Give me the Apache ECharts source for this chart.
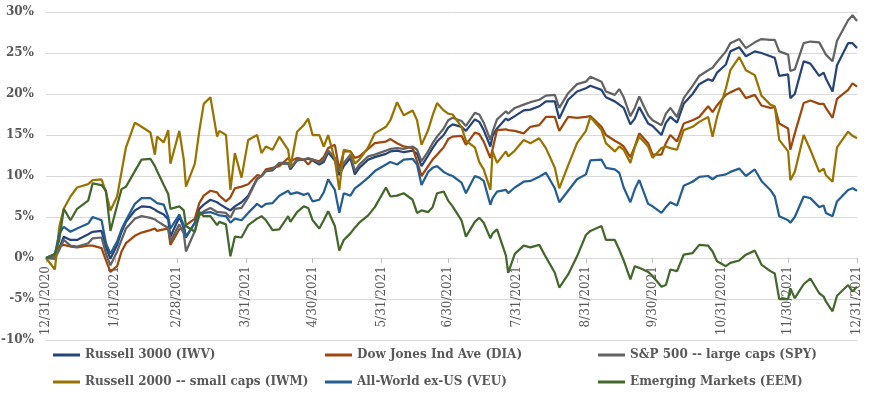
<!DOCTYPE html>
<html>
<head>
<meta charset="utf-8">
<style>
  html, body { margin: 0; padding: 0; background: #ffffff; }
  #chart { width: 871px; height: 398px; }
</style>
<script src="https://cdn.jsdelivr.net/npm/echarts@6/dist/echarts.min.js"></script>
</head>
<body>
<div id="chart"></div>
<script>
// ---------- data (cumulative return, %) ----------
const dates = [
  '2020-12-31','2021-01-04','2021-01-06','2021-01-08','2021-01-11','2021-01-14','2021-01-19','2021-01-21','2021-01-25','2021-01-27',
  '2021-01-29','2021-02-01','2021-02-03','2021-02-05','2021-02-09','2021-02-12','2021-02-16','2021-02-18','2021-02-19','2021-02-22',
  '2021-02-24','2021-02-25','2021-03-01','2021-03-03','2021-03-04','2021-03-08','2021-03-10','2021-03-12','2021-03-15','2021-03-18',
  '2021-03-19','2021-03-22','2021-03-24','2021-03-26','2021-03-29','2021-04-01','2021-04-05','2021-04-07','2021-04-09','2021-04-12',
  '2021-04-15','2021-04-19','2021-04-20','2021-04-23','2021-04-26','2021-04-28','2021-04-30','2021-05-03','2021-05-05','2021-05-07',
  '2021-05-10','2021-05-12','2021-05-14','2021-05-17','2021-05-19','2021-05-21','2021-05-25','2021-05-28','2021-06-02','2021-06-04',
  '2021-06-07','2021-06-10','2021-06-14','2021-06-16','2021-06-18','2021-06-21','2021-06-23','2021-06-25','2021-06-28','2021-06-30',
  '2021-07-02','2021-07-06','2021-07-08','2021-07-12','2021-07-14','2021-07-16','2021-07-19','2021-07-20','2021-07-22','2021-07-26',
  '2021-07-27','2021-07-30','2021-08-03','2021-08-06','2021-08-10','2021-08-13','2021-08-17','2021-08-19','2021-08-23','2021-08-27',
  '2021-08-31','2021-09-02','2021-09-07','2021-09-09','2021-09-13','2021-09-15','2021-09-17','2021-09-20','2021-09-22','2021-09-24',
  '2021-09-28','2021-09-30','2021-10-04','2021-10-06','2021-10-08','2021-10-11','2021-10-14','2021-10-18','2021-10-21','2021-10-25',
  '2021-10-27','2021-10-29','2021-11-02','2021-11-04','2021-11-08','2021-11-11','2021-11-15','2021-11-18','2021-11-22','2021-11-24',
  '2021-11-26','2021-11-30','2021-12-01','2021-12-03','2021-12-07','2021-12-10','2021-12-14','2021-12-16','2021-12-17','2021-12-20',
  '2021-12-22','2021-12-27','2021-12-29','2021-12-31'
];

const iwv = [
  0, 0.1, 1.2, 2.6, 2.2, 2.2, 2.9, 3.2, 3.3, 1.3,
  -0.1, 1.6, 3.2, 4.4, 5.8, 6.3, 6.2, 5.9, 5.7, 5.3,
  4.7, 2.6, 5.0, 3.7, 2.5, 4.3, 6.0, 6.5, 7.1, 6.8,
  6.6, 6.1, 5.8, 6.3, 6.8, 7.6, 9.7, 10.0, 10.6, 10.7,
  11.5, 11.5, 10.8, 11.9, 12.0, 12.1, 11.9, 11.4, 11.7, 12.9,
  11.9, 10.1, 11.2, 12.2, 10.2, 11.0, 12.0, 12.3, 12.7, 13.0,
  13.1, 12.9, 13.1, 12.7, 11.2, 12.5, 13.4, 14.2, 15.0, 15.9,
  16.3, 16.0, 15.5, 16.9, 16.6, 15.6, 13.6, 14.9, 15.8, 17.0,
  16.8, 17.3, 18.0, 18.1, 18.5, 19.1, 19.1, 17.0, 19.3, 20.3,
  20.7, 21.0, 20.5, 19.6, 19.1, 18.7, 18.3, 16.3, 17.0, 18.4,
  16.4, 16.1, 15.0, 16.5, 17.2, 16.5, 18.8, 20.0, 21.2, 21.8,
  21.6, 22.6, 23.6, 25.2, 25.7, 24.6, 25.2, 25.0, 24.6, 24.4,
  22.2, 22.4, 19.5, 20.0, 24.0, 23.7, 22.2, 22.6, 21.9, 20.3,
  23.5, 26.2, 26.2, 25.6
];

const dia = [
  0, 0.0, 1.4, 1.6, 1.4, 1.3, 1.5, 1.5, 1.2, -0.3,
  -1.7, -1.0, 0.8, 1.8, 2.7, 3.1, 3.4, 3.6, 3.3, 3.5,
  3.6, 1.6, 3.5, 3.7, 4.0, 4.8, 6.7, 7.6, 8.2, 8.0,
  7.6, 6.9, 7.4, 8.5, 8.7, 9.0, 10.1, 10.0, 10.8, 11.0,
  11.2, 12.2, 11.8, 12.2, 12.0, 11.4, 12.0, 11.8, 12.3, 13.4,
  13.8, 10.8, 13.0, 13.0, 12.2, 12.4, 13.3, 14.0, 14.2, 14.5,
  14.0, 13.6, 13.4, 11.8, 10.0, 11.2, 12.0, 12.6, 13.5, 14.5,
  14.8, 14.9, 13.8, 15.3, 15.1, 14.2, 12.2, 13.3, 15.6, 15.7,
  15.6, 15.5, 15.2, 16.0, 16.2, 17.2, 17.2, 15.5, 17.2, 17.1,
  17.2, 17.3, 16.0, 15.0, 14.3, 14.0, 13.6, 12.3, 13.6, 15.2,
  14.0, 12.6, 12.6, 14.0, 15.0, 14.2, 16.4, 16.8, 17.2, 18.5,
  17.8, 18.6, 19.9, 20.2, 20.7, 19.5, 19.9, 18.6, 18.3, 18.4,
  16.4, 15.8, 13.2, 15.2, 18.9, 19.2, 18.8, 18.8, 18.3, 17.1,
  19.4, 20.5, 21.3, 20.9
];

const spy = [
  0, -0.1, 1.0, 2.2, 1.5, 1.4, 1.8, 2.4, 2.5, 0.5,
  -0.9, 0.8, 2.2, 3.6, 4.8, 5.1, 4.9, 4.7, 4.5, 4.0,
  3.7, 2.0, 4.1, 3.0, 0.8, 3.3, 5.2, 5.7, 6.1, 5.6,
  5.6, 5.5, 4.9, 6.0, 6.1, 7.4, 9.6, 10.0, 10.6, 10.8,
  11.6, 11.6, 11.0, 12.0, 12.0, 12.2, 12.0, 11.6, 12.0, 13.1,
  12.2, 10.6, 11.6, 12.6, 10.6, 11.4, 12.4, 12.6, 13.1, 13.3,
  13.4, 13.3, 13.6, 13.2, 11.8, 13.0, 14.0, 14.8, 15.8, 16.8,
  17.1, 16.7, 16.1, 17.7, 17.5, 16.5, 14.4, 15.4, 16.9, 17.9,
  17.6, 18.3, 18.7, 19.0, 19.3, 19.8, 19.9, 18.3, 20.1, 21.2,
  21.5, 22.1, 21.5, 20.3, 19.9, 20.6, 19.6, 17.3, 18.3, 19.7,
  17.4, 16.8, 16.2, 17.6, 18.3, 17.2, 19.5, 21.0, 22.2, 22.9,
  23.2, 23.9, 25.2, 26.2, 26.7, 25.6, 26.3, 26.7, 26.6, 26.6,
  25.2, 24.8, 22.8, 23.0, 26.2, 26.4, 26.3, 25.3, 24.8, 24.0,
  26.5, 29.0, 29.6, 28.9
];

const iwm = [
  0, -1.4, 3.8, 6.0, 7.5, 8.6, 9.0, 9.5, 9.6, 8.0,
  5.8, 7.5, 10.5, 13.5, 16.5, 16.0, 15.3, 12.6, 14.8, 14.1,
  15.6, 11.5, 15.5, 12.0, 8.7, 11.5, 15.5, 18.8, 19.6, 14.8,
  15.5, 15.0, 8.3, 12.8, 9.8, 14.4, 15.0, 12.8, 13.6, 13.2,
  14.8, 13.2, 11.1, 15.4, 16.2, 17.0, 15.0, 15.0, 13.6, 15.0,
  12.0, 8.3, 13.2, 13.0, 11.5, 12.0, 13.5, 15.2, 16.0, 16.8,
  19.0, 17.4, 18.0, 16.8, 13.8, 15.6, 17.4, 18.9, 18.0, 17.6,
  17.5, 16.0, 14.3, 13.5, 11.7, 10.8, 8.3, 13.0, 11.6, 13.0,
  12.4, 13.1, 14.4, 14.0, 14.6, 13.4, 11.0, 8.5, 11.3, 14.0,
  15.5, 17.2, 15.6, 14.0, 13.0, 13.6, 13.2, 11.6, 13.5, 14.8,
  13.6, 12.2, 13.4, 13.6, 13.4, 13.2, 15.6, 16.0, 16.6, 17.2,
  14.8, 17.2, 20.7, 22.9, 24.5, 22.9, 22.3, 19.8, 18.7, 18.5,
  14.4, 13.0, 9.5, 10.5, 15.0, 13.2, 10.5, 10.9, 10.1, 9.3,
  13.5, 15.4, 14.9, 14.6
];

const veu = [
  0, 0.5, 3.0, 3.8, 3.2, 3.6, 4.2, 5.0, 4.6, 1.8,
  0.5, 2.0, 3.5, 4.6, 6.6, 7.3, 7.3, 6.9, 6.7, 6.5,
  5.0, 3.6, 5.3, 4.0, 2.6, 4.3, 5.5, 5.5, 5.6, 5.3,
  5.2, 5.1, 4.3, 4.8, 4.6, 5.5, 6.6, 6.2, 6.6, 6.7,
  7.6, 8.2, 7.8, 8.0, 7.7, 7.9, 6.9, 7.1, 8.0, 9.6,
  8.3, 5.5, 7.9, 7.6, 8.5, 8.9, 9.8, 10.6, 11.4, 11.7,
  11.4, 12.0, 12.1, 11.4, 8.9, 10.5, 11.0, 11.2, 10.5, 10.2,
  10.0, 9.2, 7.9, 10.0, 9.8, 9.4, 6.5, 7.3, 8.1, 8.3,
  7.9, 8.6, 9.3, 9.4, 9.9, 10.4, 8.5, 6.8, 8.2, 9.6,
  10.2, 11.9, 12.0, 11.0, 10.8, 10.4, 8.6, 6.8, 8.4, 9.5,
  6.6, 6.3, 5.5, 6.2, 6.8, 6.4, 8.8, 9.3, 9.9, 10.0,
  9.6, 10.0, 10.2, 10.5, 10.9, 10.0, 10.8, 9.4, 8.3, 7.5,
  5.1, 4.6, 4.3, 5.0, 7.5, 7.3, 6.2, 6.4, 5.5, 5.1,
  6.9, 8.3, 8.5, 8.2
];

const eem = [
  0, 0.5, 2.2, 6.0, 4.6, 6.0, 7.0, 9.1, 8.9, 8.2,
  3.3, 6.4, 8.4, 8.7, 10.6, 12.0, 12.1, 11.2, 10.6, 8.9,
  7.8, 6.0, 6.3, 5.8, 3.9, 3.2, 5.6, 5.1, 5.1, 4.0,
  4.4, 4.1, 0.2, 2.6, 2.5, 4.0, 4.8, 5.1, 4.6, 3.4,
  3.5, 5.1, 4.4, 5.6, 6.3, 6.1, 4.6, 3.6, 4.6, 5.7,
  3.9, 0.9, 2.2, 3.0, 3.7, 4.3, 5.2, 6.2, 8.6, 7.5,
  7.6, 7.9, 7.1, 5.5, 5.8, 5.6, 6.2, 7.9, 8.1, 7.0,
  6.3, 4.6, 2.6, 4.4, 4.9, 4.3, 2.4, 3.0, 3.5, 0.3,
  -1.8, 0.5, 1.5, 1.3, 1.6, 0.1, -1.8, -3.6, -2.0, 0.2,
  2.8, 3.3, 3.9, 2.2, 2.2, 1.0, -0.3, -2.6, -1.0, -1.2,
  -1.7, -2.2, -3.5, -3.3, -1.4, -1.6, 0.4, 0.6, 1.6, 1.5,
  0.8, -0.4, -1.0, -0.6, -0.3, 0.4, 0.9, -0.8, -1.6, -1.9,
  -5.0, -5.0, -3.7, -4.9, -3.2, -2.5, -4.3, -4.7, -5.3, -6.5,
  -4.6, -3.3, -4.1, -3.5
];

const seriesNames = [
  'Russell 3000 (IWV)', 'Dow Jones Ind Ave (DIA)', 'S&P 500 -- large caps (SPY)',
  'Russell 2000 -- small caps (IWM)', 'All-World ex-US (VEU)', 'Emerging Markets (EEM)'
];
const seriesValues = [iwv, dia, spy, iwm, veu, eem];
const seriesColors = ['#264478', '#9E480E', '#636363', '#997300', '#255E91', '#43682B'];

const tickDates = [
  '2020-12-31','2021-01-31','2021-02-28','2021-03-31','2021-04-30','2021-05-31','2021-06-30',
  '2021-07-31','2021-08-31','2021-09-30','2021-10-31','2021-11-30','2021-12-31'
];
const yTicks = [-10, -5, 0, 5, 10, 15, 20, 25, 30];

// ---------- helpers ----------
function ts(s) {
  const p = s.split('-').map(Number);
  return Date.UTC(p[0], p[1] - 1, p[2]);
}
function fmtDate(v) {
  const d = new Date(v);
  return (d.getUTCMonth() + 1) + '/' + d.getUTCDate() + '/' + d.getUTCFullYear();
}

const FONT = 'DejaVu Serif';
const TEXT = '#595959';

const series = seriesNames.map((name, i) => ({
  name: name,
  type: 'line',
  showSymbol: false,
  symbol: 'none',
  color: seriesColors[i],
  lineStyle: { width: 2.25, color: seriesColors[i] },
  emphasis: { disabled: true },
  data: dates.map((d, j) => [ts(d), seriesValues[i][j]])
}));

// legend: 3 columns x 2 rows (row-major order of seriesNames)
const legendLeft = [53, 325, 598];
const legendTop = [348, 375];
const legends = seriesNames.map((name, i) => ({
  data: [name],
  left: legendLeft[i % 3],
  top: legendTop[Math.floor(i / 3)],
  padding: 0,
  icon: 'rect',
  itemWidth: 27,
  itemHeight: 3,
  selectedMode: false,
  textStyle: {
    fontFamily: FONT, fontSize: 12, fontWeight: 'bold', color: TEXT, lineHeight: 14
  }
}));

const tickValues = tickDates.map(ts);

// grid geometry: plot spans 12..340 px for -10..30 %, so the 0 % line sits 82 px above the bottom
const GRID_TOP = 12, GRID_BOTTOM = 58, PLOT_H = 398 - GRID_TOP - GRID_BOTTOM;
const zeroOffset = -PLOT_H * (0 - yTicks[0]) / (yTicks[yTicks.length - 1] - yTicks[0]);

const chart = echarts.init(document.getElementById('chart'), null, { renderer: 'canvas' });
chart.setOption({
  animation: false,
  backgroundColor: '#ffffff',
  grid: { left: 46, right: 14, top: GRID_TOP, bottom: GRID_BOTTOM, containLabel: false, outerBoundsMode: 'none' },
  legend: legends,
  xAxis: {
    type: 'value',
    position: 'bottom',
    offset: zeroOffset,
    min: tickValues[0],
    max: tickValues[tickValues.length - 1],
    axisLine: { show: true, onZero: false, lineStyle: { color: '#d9d9d9', width: 1 } },
    axisTick: {
      show: true, length: 5, inside: false,
      customValues: tickValues,
      lineStyle: { color: '#bfbfbf', width: 1 }
    },
    axisLabel: {
      show: true,
      customValues: tickValues,
      rotate: 90,
      margin: 8,
      formatter: function (v) { return fmtDate(v); },
      fontFamily: FONT, fontSize: 12, color: TEXT
    },
    splitLine: { show: false }
  },
  yAxis: {
    type: 'value',
    min: yTicks[0],
    max: yTicks[yTicks.length - 1],
    interval: 5,
    axisLine: { show: false },
    axisTick: { show: false },
    axisLabel: {
      formatter: '{value}%',
      margin: 12,
      fontFamily: FONT, fontSize: 12, fontWeight: 'bold', color: TEXT
    },
    splitLine: { show: true, lineStyle: { color: '#d9d9d9', width: 1 } }
  },
  series: series
});
</script>
</body>
</html>
